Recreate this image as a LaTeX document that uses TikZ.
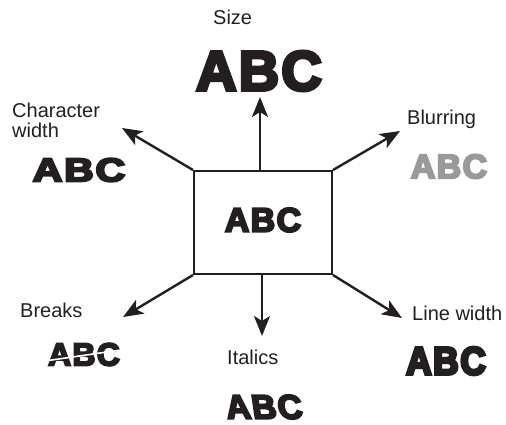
\documentclass[tikz,border=0pt]{standalone}
\usepackage{fontspec}
\setmainfont{Liberation Sans}
\newfontfamily\heavyfont[FakeBold=6,LetterSpace=4]{Liberation Sans Bold}
\newfontfamily\heavierfont[FakeBold=8,LetterSpace=5]{Liberation Sans Bold}
\usetikzlibrary{arrows.meta}
\definecolor{ink}{HTML}{231F20}
\definecolor{blurgray}{HTML}{999999}
\tikzset{
  lbl/.style={inner sep=0pt, anchor=base west, text=ink, font=\fontsize{20}{23}\selectfont},
  abc/.style={inner sep=0pt, anchor=center, text=ink},
  arr/.style={draw=ink, line width=2.4pt, -{Stealth[length=20pt,width=16pt,inset=5pt]}},
  centerbox/.style={draw=ink, line width=2pt, minimum width=138pt, minimum height=103pt, inner sep=0pt}
}
\begin{document}
\begin{tikzpicture}[x=1pt,y=-1pt]
\useasboundingbox (0,0) rectangle (506,425);
% center
\node[centerbox] (box) at (263,222.5) {};
\node[abc, font=\heavyfont\fontsize{34}{40}\selectfont] (cabc) at (263,220) {ABC};
% tips
\coordinate (tsize) at (260,97);
\coordinate (tcw) at (122,128);
\coordinate (tblur) at (400,131);
\coordinate (tbreak) at (123,317);
\coordinate (tital) at (262,336);
\coordinate (tlw) at (402,318);
% arrows
\draw[arr] (box.north -| tsize) -- (tsize);
\draw[arr] (box.north west) -- (tcw);
\draw[arr] (box.north east) -- (tblur);
\draw[arr] (box.south west) -- (tbreak);
\draw[arr] (box.south -| tital) -- (tital);
\draw[arr] (box.south east) -- (tlw);
% labels
\node[lbl] (lsize) at (213,25) {Size};
\node[lbl, align=left, anchor=north west, text depth=0pt] (lcw) at (12,103) {Character\\[-3pt]width};
\node[lbl] (lblur) at (407,125) {Blurring};
\node[lbl] (lbreak) at (20,317) {Breaks};
\node[lbl] (lital) at (227,364) {Italics};
\node[lbl] (llw) at (412,320) {Line width};
% ABC variants
\node[abc, font=\heavyfont\fontsize{56}{60}\selectfont] (sizeabc) at (259,71) {ABC};
\node[abc, font=\heavyfont\fontsize{33}{40}\selectfont, xscale=1.25] (cwabc) at (79,170) {ABC};
\node[abc, text=blurgray, font=\heavyfont\fontsize{34}{40}\selectfont] (blurabc) at (449,166.5) {ABC};
\node[abc, font=\heavyfont\fontsize{32}{40}\selectfont] (breakabc) at (84,354.5) {ABC};
\draw[white, line width=1.6pt] (38,362) -- (131,348.5);
\node[abc, font=\heavyfont\fontsize{34}{40}\selectfont, xslant=-0.15] (italabc) at (264,407) {ABC};
\node[abc, font=\heavierfont\fontsize{39}{44}\selectfont, xscale=0.9] (lwabc) at (446,361) {ABC};
\end{tikzpicture}
\end{document}
